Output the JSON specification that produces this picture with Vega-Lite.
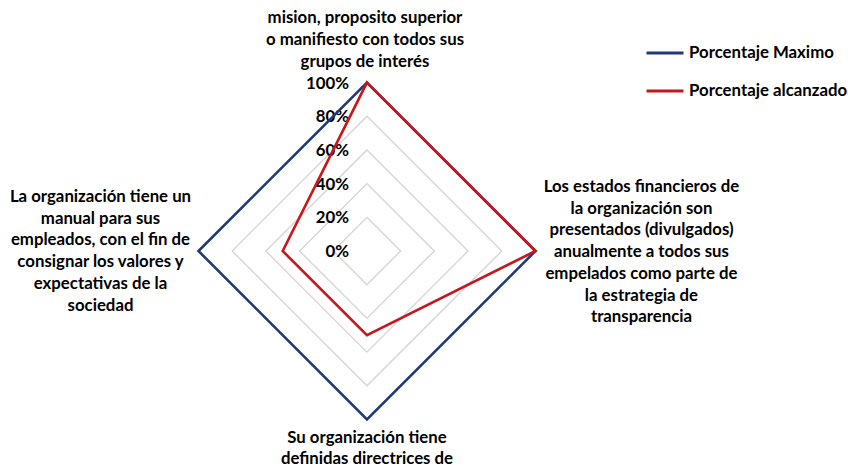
{
  "$schema": "https://vega.github.io/schema/vega-lite/v6.json",
  "width": 848,
  "height": 468,
  "padding": 0,
  "autosize": {"type": "none"},
  "background": "white",
  "config": {
    "view": {"stroke": null},
    "text": {"font": "Lato", "fontWeight": "bold", "fontSize": 16.8, "color": "#000000"}
  },
  "datasets": {
    "series": [
      {"criterio": "Misión", "idx": 0, "serie": "Porcentaje Maximo", "valor": 100},
      {"criterio": "Estados financieros", "idx": 1, "serie": "Porcentaje Maximo", "valor": 100},
      {"criterio": "Directrices", "idx": 2, "serie": "Porcentaje Maximo", "valor": 100},
      {"criterio": "Manual", "idx": 3, "serie": "Porcentaje Maximo", "valor": 100},
      {"criterio": "Misión", "idx": 0, "serie": "Porcentaje alcanzado", "valor": 100},
      {"criterio": "Estados financieros", "idx": 1, "serie": "Porcentaje alcanzado", "valor": 100},
      {"criterio": "Directrices", "idx": 2, "serie": "Porcentaje alcanzado", "valor": 50},
      {"criterio": "Manual", "idx": 3, "serie": "Porcentaje alcanzado", "valor": 50}
    ],
    "grid": [
      {"nivel": 20, "idx": [0, 1, 2, 3]},
      {"nivel": 40, "idx": [0, 1, 2, 3]},
      {"nivel": 60, "idx": [0, 1, 2, 3]},
      {"nivel": 80, "idx": [0, 1, 2, 3]},
      {"nivel": 100, "idx": [0, 1, 2, 3]}
    ],
    "ticks": [
      {"nivel": 0}, {"nivel": 20}, {"nivel": 40}, {"nivel": 60}, {"nivel": 80}, {"nivel": 100}
    ],
    "labels": [
      {"idx": 0, "texto": "mision, proposito superior\no manifiesto con todos sus\ngrupos de interés"},
      {"idx": 1, "texto": "Los estados financieros de\nla organización son\npresentados (divulgados)\nanualmente a todos sus\nempelados como parte de\nla estrategia de\ntransparencia"},
      {"idx": 2, "texto": "Su organización tiene\ndefinidas directrices de"},
      {"idx": 3, "texto": "La organización tiene un\nmanual para sus\nempleados, con el fin de\nconsignar los valores y\nexpectativas de la\nsociedad"}
    ]
  },
  "encoding": {
    "x": {"field": "x", "type": "quantitative", "scale": {"domain": [-217.8, 285.5], "nice": false, "zero": false}, "axis": null},
    "y": {"field": "y", "type": "quantitative", "scale": {"domain": [-128.8, 149.0], "nice": false, "zero": false}, "axis": null}
  },
  "layer": [
    {
      "data": {"name": "grid"},
      "transform": [
        {"flatten": ["idx"]},
        {"calculate": "datum.idx == 1 ? datum.nivel : datum.idx == 3 ? -datum.nivel : 0", "as": "x"},
        {"calculate": "datum.idx == 0 ? datum.nivel : datum.idx == 2 ? -datum.nivel : 0", "as": "y"}
      ],
      "mark": {"type": "line", "interpolate": "linear-closed", "stroke": "#d4d4d4", "strokeWidth": 1.3},
      "encoding": {
        "detail": {"field": "nivel", "type": "nominal"},
        "order": {"field": "idx", "type": "quantitative"}
      }
    },
    {
      "data": {"name": "ticks"},
      "transform": [
        {"calculate": "0", "as": "x"},
        {"calculate": "datum.nivel", "as": "y"},
        {"calculate": "datum.nivel + '%'", "as": "etiqueta"}
      ],
      "mark": {"type": "text", "align": "right", "baseline": "middle", "dx": -18, "dy": 1},
      "encoding": {
        "text": {"field": "etiqueta", "type": "nominal"}
      }
    },
    {
      "data": {"name": "series"},
      "transform": [
        {"calculate": "datum.idx == 1 ? datum.valor : datum.idx == 3 ? -datum.valor : 0", "as": "x"},
        {"calculate": "datum.idx == 0 ? datum.valor : datum.idx == 2 ? -datum.valor : 0", "as": "y"}
      ],
      "mark": {"type": "line", "interpolate": "linear-closed", "strokeWidth": 2.6},
      "encoding": {
        "color": {
          "field": "serie",
          "type": "nominal",
          "scale": {"domain": ["Porcentaje Maximo", "Porcentaje alcanzado"], "range": ["#1f3a78", "#c8161d"]},
          "legend": {
            "orient": "none",
            "legendX": 645,
            "legendY": 33,
            "title": null,
            "symbolType": "stroke",
            "symbolSize": 1369,
            "symbolStrokeWidth": 3,
            "labelFont": "Lato",
            "labelFontWeight": "bold",
            "labelFontSize": 16.8,
            "labelColor": "#000000",
            "labelOffset": 4,
            "rowPadding": 9,
            "padding": 0
          }
        },
        "order": {"field": "idx", "type": "quantitative"}
      }
    },
    {
      "data": {"name": "labels"},
      "transform": [
        {"filter": "datum.idx == 0"},
        {"calculate": "0", "as": "x"},
        {"calculate": "100", "as": "y"}
      ],
      "mark": {"type": "text", "align": "center", "baseline": "middle", "lineBreak": "\n", "lineHeight": 22, "dx": -2, "dy": -65},
      "encoding": {"text": {"field": "texto", "type": "nominal"}}
    },
    {
      "data": {"name": "labels"},
      "transform": [
        {"filter": "datum.idx == 1"},
        {"calculate": "100", "as": "x"},
        {"calculate": "0", "as": "y"}
      ],
      "mark": {"type": "text", "align": "center", "baseline": "middle", "lineBreak": "\n", "lineHeight": 21.7, "dx": 106, "dy": -64},
      "encoding": {"text": {"field": "texto", "type": "nominal"}}
    },
    {
      "data": {"name": "labels"},
      "transform": [
        {"filter": "datum.idx == 2"},
        {"calculate": "0", "as": "x"},
        {"calculate": "-100", "as": "y"}
      ],
      "mark": {"type": "text", "align": "center", "baseline": "middle", "lineBreak": "\n", "lineHeight": 21, "dx": 0, "dy": 19},
      "encoding": {"text": {"field": "texto", "type": "nominal"}}
    },
    {
      "data": {"name": "labels"},
      "transform": [
        {"filter": "datum.idx == 3"},
        {"calculate": "-100", "as": "x"},
        {"calculate": "0", "as": "y"}
      ],
      "mark": {"type": "text", "align": "center", "baseline": "middle", "lineBreak": "\n", "lineHeight": 21.7, "dx": -98, "dy": -54},
      "encoding": {"text": {"field": "texto", "type": "nominal"}}
    }
  ]
}
